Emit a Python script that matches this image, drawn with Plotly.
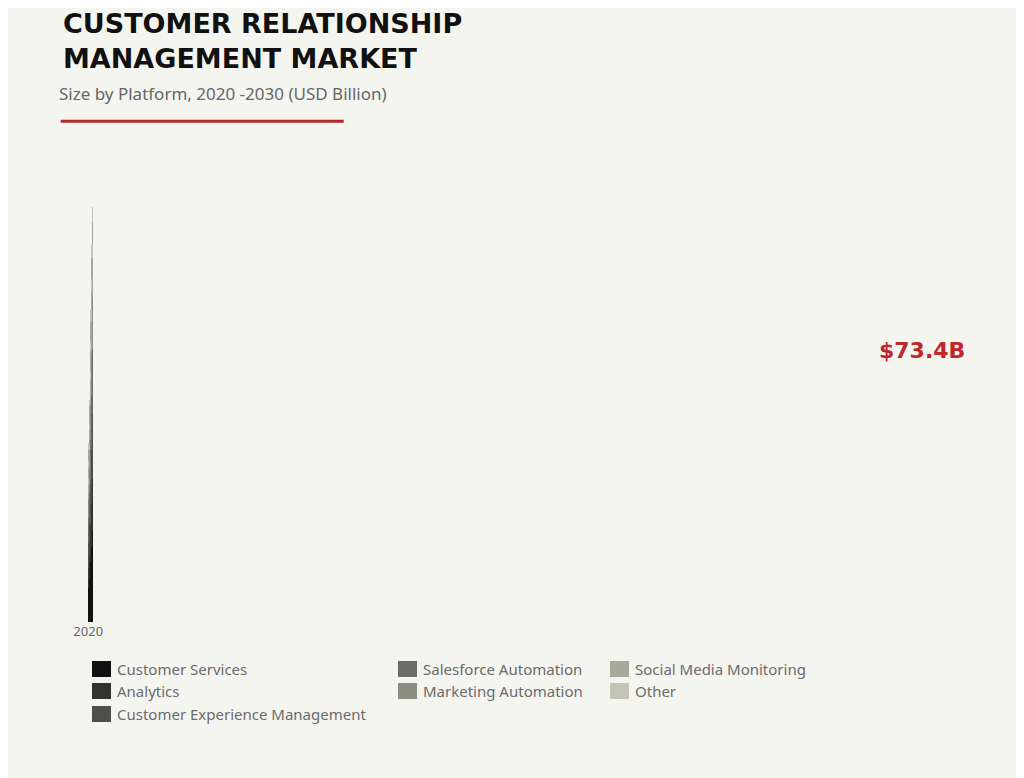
import plotly.graph_objects as go

years = ["2020", "2021", "2022", "2023", "2024", "2025", "2026", "2027", "2028", "2029", "2030"]
segments = ["Customer Services", "Analytics", "Customer Experience Management",
            "Salesforce Automation", "Marketing Automation", "Social Media Monitoring", "Other"]
colors = ["#111111", "#333330", "#4f4f49", "#6c6c64", "#8c8c80", "#a9a99b", "#c4c4b6"]

customer_services = [9.9, 11.4, 12.6, 14.0, 15.5, 17.5, 19.6, 21.9, 24.0, 26.6, 29.2]
analytics = [5.8, 6.4, 7.0, 7.9, 9.1, 10.2, 11.4, 12.6, 14.0, 15.2, 16.7]
cem = [7.3, 8.2, 9.1, 9.9, 11.4, 12.6, 14.3, 15.8, 17.3, 19.0, 21.0]
salesforce = [7.3, 7.9, 9.1, 10.2, 11.1, 12.9, 14.0, 15.8, 17.3, 19.0, 20.8]
marketing = [5.8, 6.7, 7.0, 7.9, 9.1, 10.2, 11.4, 12.6, 13.7, 15.2, 16.7]
social = [4.1, 4.7, 5.6, 6.1, 6.7, 7.6, 8.5, 9.4, 10.5, 11.4, 12.6]
other = [1.8, 1.8, 1.8, 1.8, 2.0, 2.4, 2.9, 3.2, 3.5, 3.8, 4.4]
series = [customer_services, analytics, cem, salesforce, marketing, social, other]

fig = go.Figure()
for name, vals, c in zip(segments, series, colors):
    fig.add_trace(go.Bar(x=years, y=vals, name=name, marker=dict(color=c, line=dict(width=0))))

total_2025 = sum(s[5] for s in series)
fig.add_annotation(x="2025", y=total_2025, text="<b>$73.4B</b>", showarrow=False,
                   yshift=20, font=dict(size=22, color="#c0272d", family="DejaVu Sans"))

# titles (paper coords relative to a 472px tall plot whose bottom is at y=622)
fig.add_annotation(xref="paper", yref="paper", x=-0.031, y=1.305, xanchor="left", yanchor="top",
                   text="<b>CUSTOMER RELATIONSHIP<br>MANAGEMENT MARKET</b>", showarrow=False, align="left",
                   font=dict(size=27, color="#111111", family="DejaVu Sans"))
fig.add_annotation(xref="paper", yref="paper", x=-0.035, y=1.119, xanchor="left", yanchor="middle",
                   text="Size by Platform, 2020 -2030 (USD Billion)", showarrow=False,
                   font=dict(size=17, color="#666666", family="Noto Sans"))
fig.add_shape(type="line", xref="paper", yref="paper", x0=-0.031, x1=0.291, y0=1.061, y1=1.061,
              line=dict(color="#b5262c", width=3))

# manual legend in three columns
legend_pos = [(92, 669), (92, 691), (92, 714), (398, 669), (398, 691), (610, 669), (610, 691)]
for (px, py), name, c in zip(legend_pos, segments, colors):
    xp = (px - 88) / 879
    yp = (622 - py) / 472
    fig.add_shape(type="rect", xref="paper", yref="paper", x0=xp, x1=xp + 19 / 879,
                  y0=yp - 8 / 472, y1=yp + 8 / 472, fillcolor=c, line=dict(width=0))
    fig.add_annotation(xref="paper", yref="paper", x=xp + 23 / 879, y=yp, xanchor="left", yanchor="middle",
                       text=name, showarrow=False, font=dict(size=15, color="#6b6b6b", family="Noto Sans"))

fig.update_layout(
    barmode="stack", bargap=0.4, showlegend=False,
    width=1024, height=778,
    margin=dict(l=80, r=65, t=142, b=164),
    paper_bgcolor="#f5f5f0", plot_bgcolor="#f5f5f0",
    xaxis=dict(type="category", showgrid=False, showline=False, ticks="",
               tickfont=dict(size=13, color="#666666", family="Noto Sans")),
    yaxis=dict(visible=False, range=[0, 138]),
)
fig.write_html("out.html")
